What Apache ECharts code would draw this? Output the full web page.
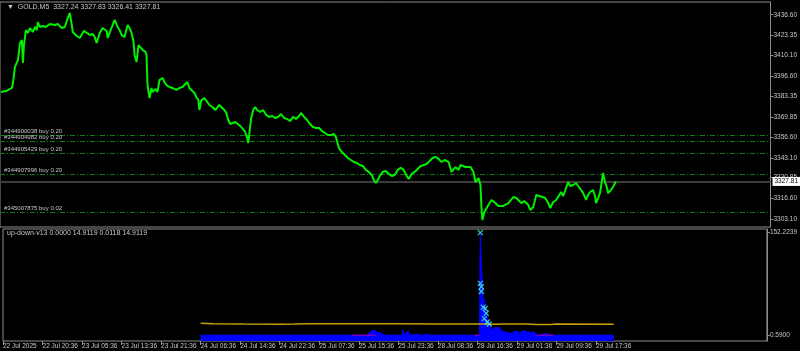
<!DOCTYPE html>
<html><head><meta charset="utf-8">
<script src="https://cdn.jsdelivr.net/npm/echarts@6/dist/echarts.min.js"></script>
<style>html,body{margin:0;padding:0;background:#000;}#c{width:800px;height:351px;}</style>
</head><body><div id="c"></div>
<script>
// ---- data ----
const symbolTitle = "GOLD,M5  3327.24 3327.83 3326.41 3327.81";
const indicatorTitle = "up-down-v13 0.0000 14.9119 0.0118 14.9119";
const barIndex = [1,6,12,13,15,18,20,22,23,24,26,28,30,33,35,37,38,40,43,46,50,52,55,58,60,62,65,67,68,70,72,73,75,77,80,82,84,87,90,93,95,97,100,103,107,108,111,115,118,120,122,125,128,130,132,134,135,137,139,141,143,146,147,148,150,152,153,156,158,160,163,165,167,170,173,177,180,183,185,188,190,192,195,197,199,200,202,205,208,210,213,216,218,220,222,225,227,229,231,233,236,238,241,243,246,248,249,250,252,254,256,258,261,264,267,270,273,276,279,282,285,288,291,294,297,300,302,305,308,311,314,317,320,323,326,329,332,335,337,340,343,346,349,352,355,358,361,364,367,370,373,375,377,379,381,384,387,390,393,396,399,402,405,408,410,413,416,419,422,425,428,431,434,437,440,443,446,450,453,457,460,462,467,472,475,477,480,482,483,484,486,487,490,493,497,500,502,505,507,510,512,515,518,520,523,526,528,530,532,535,538,541,543,547,550,552,555,558,560,563,565,567,570,572,575,578,580,582,585,588,590,592,595,597,598,600,602,605,607,609,610,613,615,617,618];
const closePrice = [3386.2,3386.8,3388.8,3392.0,3402.5,3407.0,3418.1,3420.1,3405.1,3416.8,3426.6,3424.7,3427.9,3425.3,3428.6,3426.6,3431.8,3428.6,3429.2,3428.6,3430.5,3431.8,3429.9,3430.5,3429.2,3427.9,3428.6,3427.3,3434.4,3437.7,3429.9,3425.3,3424.7,3422.7,3421.4,3420.1,3426.0,3424.7,3423.4,3424.0,3422.0,3418.1,3424.7,3427.9,3426.0,3421.4,3426.6,3433.2,3428.6,3426.6,3423.4,3422.0,3429.9,3427.9,3424.7,3418.8,3410.3,3405.7,3416.8,3418.1,3413.6,3412.3,3410.3,3390.7,3382.2,3388.8,3386.2,3388.1,3386.2,3394.0,3395.3,3392.7,3390.7,3389.4,3388.8,3387.5,3388.8,3389.4,3390.7,3392.7,3388.8,3387.5,3385.5,3382.9,3380.9,3374.4,3380.9,3382.2,3379.6,3377.7,3376.4,3374.4,3375.7,3377.7,3376.4,3374.4,3372.5,3367.9,3365.3,3364.6,3366.6,3365.9,3364.0,3363.3,3360.1,3356.1,3352.9,3358.1,3369.2,3374.4,3376.4,3374.4,3373.1,3374.4,3371.2,3369.9,3370.5,3369.2,3369.9,3371.8,3369.2,3368.6,3367.2,3369.9,3368.6,3370.5,3372.5,3369.9,3367.9,3365.3,3363.3,3362.7,3362.7,3360.7,3359.4,3358.1,3358.1,3358.8,3356.8,3349.6,3347.0,3345.1,3343.1,3341.8,3340.5,3339.8,3338.5,3337.9,3335.3,3334.0,3332.0,3328.7,3326.8,3328.7,3331.4,3334.0,3334.6,3332.7,3331.4,3332.0,3335.3,3336.6,3335.3,3331.4,3329.4,3332.7,3334.0,3335.9,3337.9,3338.5,3339.2,3341.1,3343.1,3343.8,3342.5,3340.5,3341.8,3340.5,3334.0,3337.2,3335.3,3338.5,3337.2,3337.2,3334.0,3327.4,3330.0,3325.5,3311.1,3302.6,3307.9,3309.2,3312.4,3315.7,3313.7,3311.8,3310.5,3311.8,3312.4,3313.7,3314.4,3317.6,3317.0,3315.7,3313.7,3315.0,3314.4,3312.4,3309.2,3311.1,3318.9,3318.3,3318.9,3317.0,3313.7,3310.5,3314.4,3315.7,3317.0,3320.9,3318.3,3317.0,3327.4,3324.8,3325.5,3326.8,3324.8,3325.5,3320.3,3315.7,3318.9,3320.9,3322.2,3318.3,3313.7,3316.9,3320.3,3333.3,3327.4,3323.5,3320.3,3322.2,3324.2,3326.8,3327.8];
const currentPrice = 3327.81;
const orderNames = ["#344900038 buy 0.20","#344904982 buy 0.20","#344905429 buy 0.20","#344907996 buy 0.20","#345007875 buy 0.02"];
const orderPrices = [3358.1, 3354.2, 3346.2, 3332.5, 3307.7];
const priceTicks = [3436.60,3423.35,3410.10,3396.60,3383.35,3369.85,3356.60,3343.10,3330.85,3316.60,3303.10];
const timeTickIndex = [0,40,80,120,160,200,240,280,320,360,400,440,480,520,560,600];
const timeLabels = ["22 Jul 2025","22 Jul 20:36","23 Jul 05:36","23 Jul 13:36","23 Jul 21:36","24 Jul 06:36","24 Jul 14:36","24 Jul 22:36","25 Jul 07:36","25 Jul 15:36","25 Jul 23:36","28 Jul 08:36","28 Jul 16:36","29 Jul 01:36","29 Jul 09:36","29 Jul 17:36"];
const indTicks = [0.59, 152.2239];
const indTickLabels = ["0.5900","152.2239"];
const histIndex = [200,352,368,370,372,374,376,378,380,382,384,386,404,405,406,408,410,411,420,423,430,433,482,483,484,485,486,487,488,489,490,492,494,496,498,500,502,504,506,508,512,515,518,520,523,526,528,531,534,537,540,545,548,552,560,618];
const histValue = [0.5,0.5,0.5,3,6,4,8,5,7,4,2,0.5,0.5,9,1,0.5,7,0.5,2,0.5,1.5,0.5,0.5,152,110,80,45,55,40,35,25,20,8,10,12,14,12,8,6,5,4,3,7,5,4,7,5,6,4,6,1,1,3,1,0.5,0.5];
const magentaRanges = [[353,377],[477,482],[540,557]];
const crossIndex = [483,483,484,484,486,488,489,487,490,492];
const crossValue = [152,77,72,65,42,40,33,25,20,17];
const avgIndex = [200,213,243,280,295,310,340,400,440,483,485,500,505,530,540,555,560,618];
const avgValue = [18.0,17.3,17.0,16.8,17.0,17.3,17.5,17.5,17.0,17.0,16.5,16.5,17.0,17.0,16.3,16.2,17.0,16.8];

// ---- chart ----
const chart = echarts.init(document.getElementById('c'), null, {renderer:'canvas'});
const zip = (a,b)=>a.map((x,i)=>[x,b[i]]);
const txt = '#c8c8c8', axisCol = '#8c8c8c', font = 'Liberation Sans';
const magentaSeries = magentaRanges.map(r=>({
  type:'line', xAxisIndex:1, yAxisIndex:1, symbol:'none', silent:true, z:4,
  lineStyle:{color:'#b000b0', width:1}, data:[[r[0],0.5],[r[1],0.5]]
}));
chart.setOption({
  backgroundColor:'#000',
  animation:false,
  textStyle:{fontFamily:font},
  title:[
    {text:'\u25BC  '+symbolTitle, left:2, top:-1, textStyle:{color:txt, fontSize:7, fontWeight:'normal', fontFamily:font}},
    {text:indicatorTitle, left:2, top:225, textStyle:{color:txt, fontSize:7, fontWeight:'normal', fontFamily:font}}
  ],
  grid:[
    {left:0, top:2, width:773, height:225, show:true, borderColor:axisCol, borderWidth:1, backgroundColor:'#000'},
    {left:0, top:229, width:773, height:112, show:true, borderColor:axisCol, borderWidth:1, backgroundColor:'#000'}
  ],
  xAxis:[
    {type:'value', gridIndex:0, min:0, max:773, show:false, axisLine:{onZero:false}},
    {type:'value', gridIndex:1, min:0, max:773,
     axisLine:{show:false, onZero:false}, splitLine:{show:false},
     axisTick:{show:true, customValues:timeTickIndex, length:4, lineStyle:{color:axisCol}},
     axisLabel:{customValues:timeTickIndex, color:txt, fontSize:6.5, fontFamily:font, align:'left', margin:2,
       formatter:v=>timeLabels[timeTickIndex.indexOf(v)]}}
  ],
  yAxis:[
    {type:'value', gridIndex:0, position:'right', min:3298.07, max:3444.89, splitLine:{show:false},
     axisLine:{show:true, onZero:false, lineStyle:{color:axisCol}},
     axisTick:{show:true, inside:false, customValues:priceTicks, length:3, lineStyle:{color:axisCol}},
     axisLabel:{customValues:priceTicks, color:txt, fontSize:6.5, fontFamily:font, margin:3, formatter:v=>v.toFixed(2)}},
    {type:'value', gridIndex:1, position:'right', min:-8.1, max:157.4, splitLine:{show:false},
     axisLine:{show:true, onZero:false, lineStyle:{color:axisCol}},
     axisTick:{show:true, inside:false, customValues:indTicks, length:3, lineStyle:{color:axisCol}},
     axisLabel:{customValues:indTicks, color:txt, fontSize:6.5, fontFamily:font, margin:3,
       formatter:v=>indTickLabels[indTicks.indexOf(v)]}}
  ],
  series:[
    {type:'line', xAxisIndex:0, yAxisIndex:0, symbol:'none', z:5,
     lineStyle:{color:'#00f000', width:2}, data:zip(barIndex, closePrice),
     markLine:{silent:true, symbol:'none', animation:false,
       data:[
         ...orderNames.map((n,i)=>({name:n, yAxis:orderPrices[i],
           lineStyle:{color:'#0b7d0b', type:[5,2,1,2], width:1},
           label:{show:true, position:'insideStartTop', formatter:n, color:txt, fontSize:6, fontFamily:font, distance:[4,0.5]}})),
         {name:'cur', yAxis:currentPrice, lineStyle:{color:'#3c3c3c', type:'solid', width:2},
          label:{show:true, position:'end', formatter:currentPrice.toFixed(2), color:'#000', backgroundColor:'#fff',
            fontSize:6.5, fontFamily:font, padding:[1,2], distance:2}}
       ]}},
    {type:'line', xAxisIndex:1, yAxisIndex:1, symbol:'none', z:3,
     lineStyle:{color:'#0000ff', width:1}, areaStyle:{color:'#0000ff', opacity:1, origin:'start'},
     data:zip(histIndex, histValue)},
    ...magentaSeries,
    {type:'line', xAxisIndex:1, yAxisIndex:1, symbol:'none', z:4,
     lineStyle:{color:'#c8a000', width:1.5}, data:zip(avgIndex, avgValue)},
    {type:'scatter', xAxisIndex:1, yAxisIndex:1, z:6,
     symbol:'path://M0,0 L10,10 M10,0 L0,10', symbolSize:5,
     itemStyle:{color:'none', borderColor:'#40f0f0', borderWidth:1.3},
     data:zip(crossIndex, crossValue)}
  ]
});
</script></body></html>
